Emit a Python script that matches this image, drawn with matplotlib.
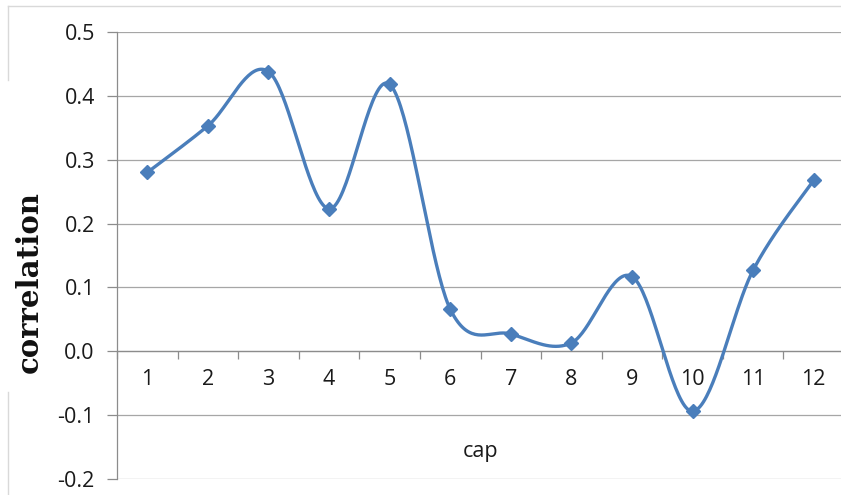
import numpy as np
import matplotlib
matplotlib.use("Agg")
import matplotlib.pyplot as plt
from matplotlib.lines import Line2D

# Correlation by cap
caps = [1, 2, 3, 4, 5, 6, 7, 8, 9, 10, 11, 12]
correlation = [0.280, 0.353, 0.438, 0.223, 0.418, 0.066, 0.027, 0.013, 0.117, -0.094, 0.127, 0.268]
y_ticks = [-0.2, -0.1, 0.0, 0.1, 0.2, 0.3, 0.4, 0.5]


def smooth_curve(xs, ys, n=40):
    """Catmull-Rom style cubic Bezier smoothing through every point."""
    xs = np.asarray(xs, float)
    ys = np.asarray(ys, float)
    px = np.concatenate([[xs[0]], xs, [xs[-1]]])
    py = np.concatenate([[ys[0]], ys, [ys[-1]]])
    out_x, out_y = [], []
    t = np.linspace(0, 1, n)
    for i in range(1, len(px) - 2):
        p0 = np.array([px[i], py[i]])
        p3 = np.array([px[i + 1], py[i + 1]])
        c1 = p0 + (np.array([px[i + 1], py[i + 1]]) - np.array([px[i - 1], py[i - 1]])) / 6
        c2 = p3 - (np.array([px[i + 2], py[i + 2]]) - np.array([px[i], py[i]])) / 6
        b = ((1 - t) ** 3)[:, None] * p0 + (3 * (1 - t) ** 2 * t)[:, None] * c1 \
            + (3 * (1 - t) * t ** 2)[:, None] * c2 + (t ** 3)[:, None] * p3
        if i > 1:
            b = b[1:]
        out_x.extend(b[:, 0])
        out_y.extend(b[:, 1])
    return np.array(out_x), np.array(out_y)


W, H = 841, 495
fig = plt.figure(figsize=(W / 100, H / 100), dpi=100)
fig.patch.set_facecolor("white")

font = "Open Sans"
fsize = 15.5
text_color = "#1a1a1a"
grid_color = "#A6A6A6"
axis_color = "#8C8C8C"

ax = fig.add_axes([117 / W, (H - 478.9) / H, 727 / W, 446.9 / H])
ax.set_xlim(0.5, 12.5)
ax.set_ylim(-0.2, 0.5)

sx, sy = smooth_curve(caps, correlation)
ax.plot(sx, sy, color="#4A7EBB", lw=2.4, solid_capstyle="round", zorder=3)
ax.plot(caps, correlation, linestyle="none", marker="D", markersize=6.8,
        color="#4A7EBB", zorder=4)

# Gridlines and axes
ax.set_yticks(y_ticks)
ax.set_yticklabels([f"{v:.1f}" for v in y_ticks], fontfamily=font, fontsize=fsize)
ax.yaxis.grid(True, color=grid_color, lw=0.9)
ax.set_axisbelow(True)
ax.tick_params(axis="y", length=7, width=0.9, color=axis_color, pad=9, labelcolor=text_color)

ax.spines["top"].set_visible(False)
ax.spines["right"].set_visible(False)
ax.spines["left"].set_color(axis_color)
ax.spines["left"].set_linewidth(0.9)
ax.spines["bottom"].set_position(("data", 0))
ax.spines["bottom"].set_color(axis_color)
ax.spines["bottom"].set_linewidth(0.9)

ax.set_xticks(np.arange(0.5, 13.0, 1.0))
ax.set_xticklabels([])
ax.set_xticks(caps, minor=True)
ax.set_xticklabels([str(c) for c in caps], minor=True, fontfamily=font, fontsize=fsize)
ax.tick_params(axis="x", which="major", length=6, width=0.9, color=axis_color)
ax.tick_params(axis="x", which="minor", length=0, pad=13, labelcolor=text_color)

# Outer chart border (partly hidden behind the axis title)
border = "#D9D9D9"
fig.add_artist(Line2D([8 / W, 1.0], [1 - 6 / H, 1 - 6 / H], color=border, lw=1))
fig.add_artist(Line2D([8 / W, 8 / W], [1 - 6 / H, 1 - 80 / H], color=border, lw=1))
fig.add_artist(Line2D([8 / W, 8 / W], [1 - 392 / H, 0.0], color=border, lw=1))

fig.text(29 / W, 1 - 282 / H, "correlation", rotation=90, ha="center", va="center",
         fontfamily="DejaVu Serif", fontweight="bold", fontsize=21, color="#111111")
fig.text(481 / W, 1 - 456.5 / H, "cap", ha="center", va="baseline",
         fontfamily=font, fontsize=fsize, color=text_color)

fig.savefig("out.png", dpi=100, facecolor="white")
